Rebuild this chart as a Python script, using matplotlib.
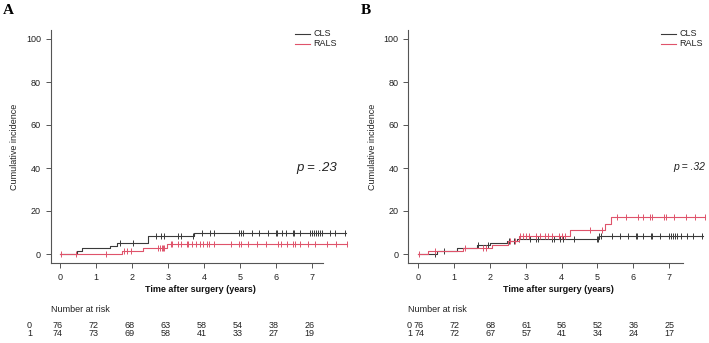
import numpy as np
import matplotlib
matplotlib.use("Agg")
import matplotlib.pyplot as plt
from matplotlib.lines import Line2D
from matplotlib.transforms import blended_transform_factory

plt.rcParams['font.family'] = ['Liberation Sans', 'DejaVu Sans']

W, H = 709, 343

# ---------------- data ----------------
groups = ["CLS", "RALS"]
xticks = [0, 1, 2, 3, 4, 5, 6, 7]
yticks = [0, 20, 40, 60, 80, 100]

# Panel A
a_cls_t = [0, 0.46, 0.60, 1.39, 1.57, 2.45, 3.73]
a_cls_v = [0, 1.3, 2.6, 3.9, 5.3, 8.2, 9.8]
a_cls_end = 7.95
a_cls_cens = [1.67, 2.02, 2.66, 2.80, 2.89, 3.29, 3.35, 3.69, 3.94, 4.17, 4.28,
              4.98, 5.02, 5.07, 5.34, 5.54, 5.79, 6.00, 6.04, 6.16, 6.28, 6.46,
              6.50, 6.67, 6.94, 7.00, 7.06, 7.11, 7.17, 7.22, 7.28, 7.50, 7.64, 7.92]
a_rals_t = [0, 1.71, 2.31, 2.97]
a_rals_v = [0, 1.5, 3.0, 4.6]
a_rals_end = 7.96
a_rals_cens = [0.02, 0.44, 1.28, 1.78, 1.87, 1.96, 2.73, 2.78, 2.82, 2.86, 2.90,
               3.07, 3.10, 3.29, 3.35, 3.52, 3.55, 3.66, 3.78, 3.89, 3.97, 4.07,
               4.15, 4.28, 4.74, 4.97, 5.03, 5.23, 5.46, 5.71, 6.05, 6.15, 6.30,
               6.48, 6.52, 6.68, 6.90, 7.08, 7.41, 7.66, 7.96]
a_risk_0 = [76, 72, 68, 63, 58, 54, 38, 26]
a_risk_1 = [74, 73, 69, 58, 41, 33, 27, 19]
a_p = ".23"

# Panel B
b_cls_t = [0, 0.51, 1.07, 1.63, 2.00, 2.47, 2.75, 5.05]
b_cls_v = [0, 1.3, 2.6, 4.0, 5.3, 6.2, 7.1, 8.6]
b_cls_end = 7.95
b_cls_cens = [0.47, 0.73, 1.66, 1.96, 2.53, 2.68, 2.81, 3.12, 3.29, 3.35, 3.73,
              3.80, 3.96, 4.05, 4.35, 4.98, 5.02, 5.06, 5.10, 5.40, 5.63, 5.87,
              6.08, 6.12, 6.28, 6.50, 6.54, 6.75, 7.00, 7.06, 7.12, 7.18, 7.24,
              7.33, 7.50, 7.68, 7.92]
b_rals_t = [0, 0.28, 1.26, 2.05, 2.50, 2.80, 4.24, 5.22, 5.38]
b_rals_v = [0, 1.4, 2.8, 4.2, 6.0, 8.6, 11.2, 14.1, 17.0]
b_rals_end = 8.0
b_rals_cens = [0.02, 0.47, 1.30, 1.82, 1.90, 2.55, 2.70, 2.85, 2.92, 3.00, 3.10,
               3.30, 3.40, 3.55, 3.62, 3.73, 3.93, 4.02, 4.10, 4.80, 5.12, 5.54,
               5.80, 6.15, 6.29, 6.47, 6.53, 6.87, 6.93, 7.13, 7.48, 7.73, 8.00]
b_risk_0 = [76, 72, 68, 61, 56, 52, 36, 25]
b_risk_1 = [74, 72, 67, 57, 41, 34, 24, 17]
b_p = ".32"

BLACK = "#3a3a3a"
RED = "#DF536B"
AXC = "#555555"

fig = plt.figure(figsize=(W / 100, H / 100), dpi=100)


def fx(x):
    return x / W


def fy(y):
    return 1 - y / H


def step_val(ts, vs, t):
    i = np.searchsorted(ts, t, side='right') - 1
    return np.asarray(vs)[i]


def panel(left_px, x0_px, ppy, xmax, xaxis_end, letter, cls, rals, risk0, risk1,
          pval, p_x, p_y, p_size, leg_x0, risk_lab_x, risk_off):
    y_top, y_bot, y0_px, y100_px = 30, 263, 254, 39
    ppu = (y0_px - y100_px) / 100.0
    right_px = x0_px + xmax * ppy
    ax = fig.add_axes([fx(left_px), fy(y_bot), fx(right_px - left_px),
                       (y_bot - y_top) / H])
    ax.set_xlim(-(x0_px - left_px) / ppy, xmax)
    ax.set_ylim(-(y_bot - y0_px) / ppu, (y0_px - y_top) / ppu)
    ax.patch.set_alpha(0)
    for s in ["top", "right"]:
        ax.spines[s].set_visible(False)
    for s in ["left", "bottom"]:
        ax.spines[s].set_color(AXC)
        ax.spines[s].set_linewidth(0.8)
    ax.spines["bottom"].set_bounds(ax.get_xlim()[0], xaxis_end)
    ax.set_xticks(xticks)
    ax.set_yticks(yticks)
    ax.tick_params(axis='both', colors=AXC, labelcolor="#222222", labelsize=6.5,
                   length=3.5, width=0.7, pad=3.5, direction='out')
    ax.set_xlabel("Time after surgery (years)", fontsize=6.5, fontweight='bold',
                  labelpad=2, color="#111111")
    ax.set_ylabel("Cumulative incidence", fontsize=6.5, labelpad=5, color="#222222")

    for (ts, vs, end, cens), col in zip([cls, rals], [BLACK, RED]):
        xs = list(ts) + [end]
        ys = list(vs) + [vs[-1]]
        ax.step(xs, ys, where='post', color=col, lw=0.8)
        cy = [step_val(ts, vs, c) for c in cens]
        ax.plot(cens, cy, ls='none', marker='|', ms=5, mew=0.7, color=col)

    # legend
    for i, (g, col) in enumerate(zip(groups, [BLACK, RED])):
        yy = 34 + i * 10
        fig.add_artist(Line2D([fx(leg_x0), fx(leg_x0 + 15)], [fy(yy), fy(yy)],
                              color=col, lw=0.8))
        fig.text(fx(leg_x0 + 18), fy(yy), g, fontsize=6.5, va='center',
                 ha='left', color="#222222")

    # p value
    fig.text(fx(p_x), fy(p_y), "p = " + pval, fontsize=p_size, style='italic',
             va='center', ha='left', color="#222222")

    # panel letter
    fig.text(fx(left_px - 48), fy(4), letter, fontsize=11, fontweight='bold',
             family='Liberation Serif', va='top', ha='left')

    # number at risk
    tr = blended_transform_factory(ax.transData, fig.transFigure)
    fig.text(fx(left_px), fy(310), "Number at risk", fontsize=6.5, va='center',
             ha='left', color="#222222")
    for row, (lab, vals) in enumerate(zip(["0", "1"], [risk0, risk1])):
        yy = 325 + row * 9
        fig.text(fx(risk_lab_x), fy(yy), lab, fontsize=6.5, va='center',
                 ha='center', color="#222222")
        for xt, v in zip(xticks, vals):
            ax.text(xt + risk_off, fy(yy), str(v), transform=tr, fontsize=6.5,
                    va='center', ha='center', color="#222222")
    return ax


panel(50.7, 60.0, 36.0, 8.05, 7.3, "A",
      (a_cls_t, a_cls_v, a_cls_end, a_cls_cens),
      (a_rals_t, a_rals_v, a_rals_end, a_rals_cens),
      a_risk_0, a_risk_1, a_p, 296, 168, 9.5, 295, 29.5, -0.07)

panel(408.3, 418.3, 35.8, 8.1, 7.39, "B",
      (b_cls_t, b_cls_v, b_cls_end, b_cls_cens),
      (b_rals_t, b_rals_v, b_rals_end, b_rals_cens),
      b_risk_0, b_risk_1, b_p, 673, 167, 7.5, 661, 409.5, 0.02)

fig.savefig("out.png", dpi=100)
